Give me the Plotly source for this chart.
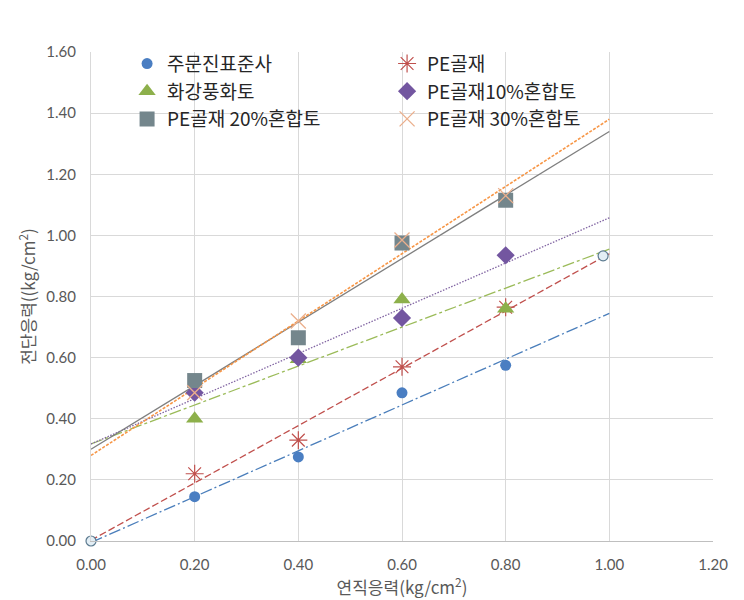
import numpy as np
import plotly.graph_objects as go

# ---- data ----
x_vals = [0.2, 0.4, 0.6, 0.8]
names = ["주문진표준사", "PE골재", "화강풍화토", "PE골재10%혼합토", "PE골재 20%혼합토", "PE골재 30%혼합토"]
y_jumunjin = [0.145, 0.275, 0.485, 0.575]
y_pe = [0.22, 0.33, 0.57, 0.765]
y_granite = [0.40, 0.595, 0.79, 0.76]
y_pe10 = [0.485, 0.60, 0.73, 0.935]
y_pe20 = [0.525, 0.665, 0.975, 1.115]
y_pe30 = [0.485, 0.72, 0.985, 1.13]
extra_x = [0.0, 0.988]
extra_y = [0.0, 0.933]
trend_x = [0.0, 1.0]
x_ticks = [0.0, 0.2, 0.4, 0.6, 0.8, 1.0, 1.2]
y_ticks = [0.0, 0.2, 0.4, 0.6, 0.8, 1.0, 1.2, 1.4, 1.6]

series = [y_jumunjin, y_pe, y_granite, y_pe10, y_pe20, y_pe30]
marker_styles = [
    dict(symbol="circle", size=11, color="#4A7EC2", line=dict(width=0)),
    dict(symbol="asterisk-open", size=15, color="#C0504D", line=dict(width=1.2, color="#C0504D")),
    dict(symbol="triangle-up", size=15, color="#8DB04B", line=dict(width=0)),
    dict(symbol="diamond", size=14, color="#7356A0", line=dict(width=0)),
    dict(symbol="square", size=15, color="#74868C", line=dict(width=0)),
    dict(symbol="x-thin-open", size=15, color="#EBAF8C", line=dict(width=1.3, color="#EBAF8C")),
]
trend_styles = [
    dict(color="#4A7EBB", width=1.3, dash="12px,3px,2px,3px"),
    dict(color="#C0504D", width=1.3, dash="7px,3px"),
    dict(color="#9BBB59", width=1.3, dash="12px,3px,3px,3px"),
    dict(color="#8064A2", width=1.3, dash="1.5px,1.5px"),
    dict(color="#7F7F7F", width=1.3, dash="solid"),
    dict(color="#F79646", width=1.6, dash="3px,1.5px"),
]

fig = go.Figure()

# trendlines (least-squares fit of each series)
for ys, st in zip(series, trend_styles):
    m, b = np.polyfit(x_vals, ys, 1)
    ty = [m * t + b for t in trend_x]
    fig.add_trace(go.Scatter(x=trend_x, y=ty, mode="lines", line=st,
                             showlegend=False, hoverinfo="skip"))

fig.add_trace(go.Scatter(x=extra_x, y=extra_y, mode="markers", showlegend=False,
                         cliponaxis=False,
                         marker=dict(symbol="circle", size=10, color="#E3EEF5",
                                     line=dict(width=1.2, color="#5B7A8F"))))

for name, ys, mk in zip(names, series, marker_styles):
    fig.add_trace(go.Scatter(x=x_vals, y=ys, mode="markers", name=name, marker=mk))

kr = "'Noto Sans CJK KR', sans-serif"
fig.update_layout(
    width=736, height=592,
    margin=dict(l=83, r=31, t=44, b=59),
    paper_bgcolor="white", plot_bgcolor="white",
    font=dict(family="Lato, 'Noto Sans CJK KR', sans-serif", color="#595959"),
    legend=dict(orientation="h", x=0.058, y=1.015, xanchor="left", yanchor="top",
                entrywidth=215, bgcolor="rgba(0,0,0,0)",
                font=dict(size=19, color="#262626", family=kr)),
    xaxis=dict(range=[0, 1.2], tickvals=x_ticks, tickformat=".2f", automargin=False,
               showgrid=True, gridcolor="#D9D9D9", gridwidth=1,
               zeroline=False, showline=True, linecolor="#BFBFBF",
               tickfont=dict(size=15, color="#595959"), ticklabelstandoff=10,
               title=dict(text="연직응력(kg/cm<sup>2</sup>)", standoff=10,
                          font=dict(size=17, color="#595959", family=kr))),
    yaxis=dict(range=[0, 1.6], tickvals=y_ticks, tickformat=".2f", automargin=False,
               showgrid=True, gridcolor="#D9D9D9", gridwidth=1,
               zeroline=False, showline=True, linecolor="#D9D9D9",
               tickfont=dict(size=15, color="#595959"), ticklabelstandoff=11,
               title=dict(text="전단응력((kg/cm<sup>2</sup>)", standoff=6,
                          font=dict(size=17, color="#595959", family=kr))),
)

fig.write_html("out.html")
